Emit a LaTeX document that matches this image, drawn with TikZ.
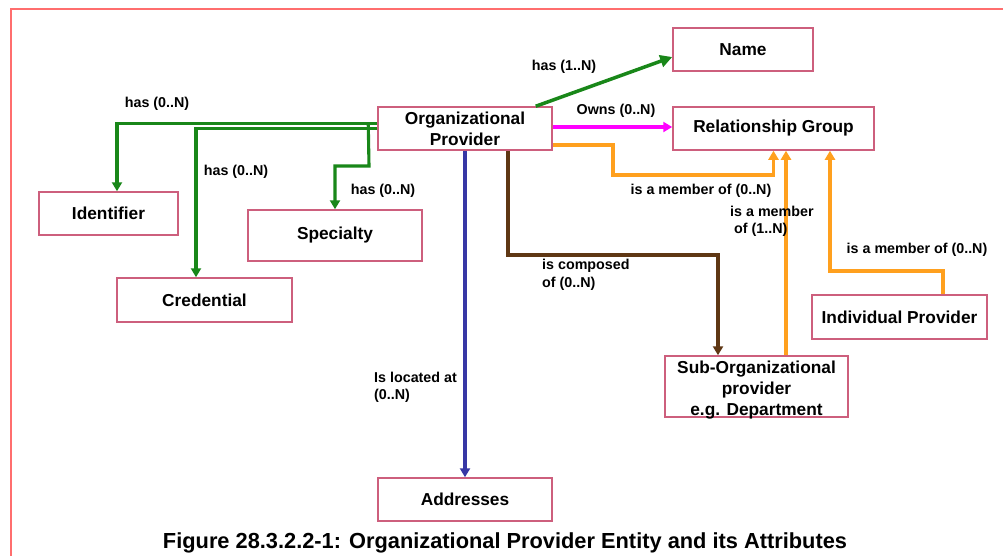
\documentclass[tikz,border=0pt]{standalone}
\usepackage{fontspec}
\setmainfont{Liberation Sans}
\usetikzlibrary{arrows.meta,calc}
\definecolor{grn}{RGB}{25,135,25}
\definecolor{blu}{RGB}{55,55,165}
\definecolor{brn}{RGB}{95,55,20}
\definecolor{org}{RGB}{255,160,30}
\definecolor{mag}{RGB}{255,0,255}
\definecolor{boxc}{RGB}{205,95,125}
\definecolor{framec}{RGB}{255,110,110}
\tikzset{
  box/.style={draw=boxc, line width=1.5pt, fill=white, inner sep=0pt, align=center,
    font=\fontsize{17.3}{21}\selectfont\bfseries},
  lbl/.style={inner sep=0pt, align=left, font=\fontsize{14.3}{17}\selectfont\bfseries},
  conn/.style={line width=3.1pt, -{Triangle[length=9pt,width=10pt]}},
  gline/.style={conn, draw=grn},
  oline/.style={conn, draw=org},
}
\begin{document}
\begin{tikzpicture}[x=1pt,y=-1pt]
\useasboundingbox (0,0) rectangle (1003,555);
\fill[white] (0,0) rectangle (1003,555);
\draw[framec, line width=2.2pt] (11,556) -- (11,9) -- (1004,9);

% boxes
\node[box, minimum width=174pt, minimum height=43pt] (orgp) at (465,128.5) {Organizational\\Provider};
\node[box, minimum width=140pt, minimum height=43pt] (name) at (743,49.5) {Name};
\node[box, minimum width=201pt, minimum height=43pt] (rel) at (773.5,128.5) {Relationship Group};
\node[box, minimum width=139pt, minimum height=43pt] (ident) at (108.5,213.5) {Identifier};
\node[box, minimum width=174pt, minimum height=51pt] (spec) at (335,235.5) {Specialty};
\node[box, minimum width=175pt, minimum height=44pt] (cred) at (204.5,300) {Credential};
\node[box, minimum width=174pt, minimum height=43pt] (addr) at (465,499.5) {Addresses};
\node[box, minimum width=175pt, minimum height=44pt] (indiv) at (899.5,317) {Individual Provider};
\node[box, minimum width=183pt, minimum height=61pt] (sub) at (756.5,386.5) {};
\node[inner sep=0pt, align=center, font=\fontsize{17.3}{21}\selectfont\bfseries] (subt) at (756.5,390.5) {Sub-Organizational\\provider\\e.g. Department};

% bend points
\coordinate (s1) at (369,166);
\coordinate (o1) at (613,145);
\coordinate (o2) at (613,175);
\coordinate (o3) at (943,271);
\coordinate (b1) at (508,255);

% green connectors
\draw[gline] ([yshift=5pt]orgp.west) -| ([xshift=8.5pt]ident.north);
\draw[gline] ([yshift=0pt]orgp.west) -| ([xshift=-8.5pt]cred.north);
\draw[gline] ([xshift=-9pt,yshift=5pt]orgp.west) -- (s1) -| (spec.north);
\draw[gline, line width=3.5pt, -{Triangle[length=12pt,width=12pt]}] ([xshift=-17pt]orgp.north east) -- ([yshift=-7.5pt]name.west);

% magenta
\draw[conn, draw=mag] ([yshift=1.5pt]orgp.east) -- ([yshift=1.5pt]rel.west);

% orange
\draw[oline] ([yshift=-16.5pt]orgp.east) -- (o1) -- (o2) -| (rel.south);
\draw[oline] ([xshift=29.5pt]sub.north) -- ([xshift=12.5pt]rel.south);
\draw[oline] ([xshift=43.5pt]indiv.north) -- (o3) -| ([xshift=56.5pt]rel.south);

% brown
\draw[conn, draw=brn] ([xshift=43pt]orgp.south) -- (b1) -| ([xshift=-38.5pt]sub.north);

% blue
\draw[conn, draw=blu] (orgp.south) -- (addr.north);

% labels
\node[lbl] (l1) at (157,104) {has (0..N)};
\node[lbl] (l2) at (236,172) {has (0..N)};
\node[lbl] (l3) at (383,191) {has (0..N)};
\node[lbl] (l4) at (564,67) {has (1..N)};
\node[lbl] (l5) at (616,111) {Owns (0..N)};
\node[lbl] (l6) at (701,191) {is a member of (0..N)};
\node[lbl, anchor=north west] (l7) at (730,206) {is a member\\\hspace*{4pt}of (1..N)};
\node[lbl] (l8) at (917,250) {is a member of (0..N)};
\node[lbl, anchor=north west, font=\fontsize{14.3}{18}\selectfont\bfseries] (l9) at (542,259) {is composed\\of (0..N)};
\node[lbl, anchor=north west] (l10) at (374,372) {Is located at\\(0..N)};

% caption
\node[inner sep=0pt, font=\fontsize{21.8}{24}\selectfont\bfseries] (cap) at (505,543) {Figure 28.3.2.2-1: Organizational Provider Entity and its Attributes};
\end{tikzpicture}
\end{document}
